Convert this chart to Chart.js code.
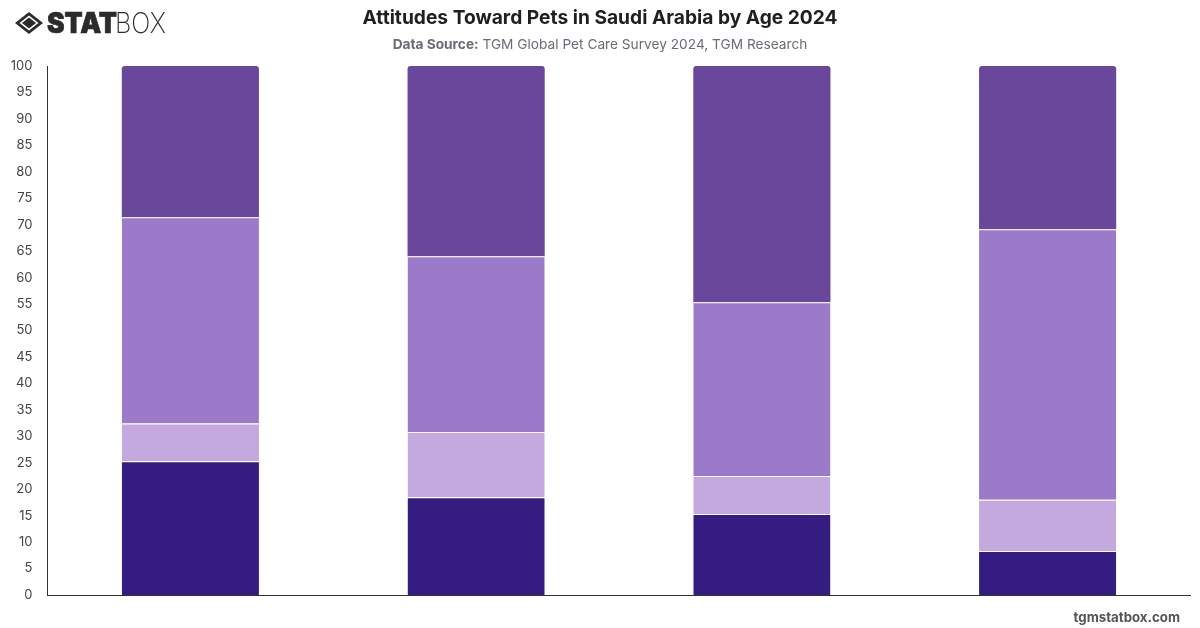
<!DOCTYPE html>
<html>
<head>
<meta charset="utf-8">
<title>Attitudes Toward Pets in Saudi Arabia by Age 2024</title>
<script src="https://cdn.jsdelivr.net/npm/chart.js@4"></script>
<style>
  html, body { margin: 0; padding: 0; background: #fff; }
  body { width: 1200px; height: 628px; position: relative; overflow: hidden; font-family: Inter, sans-serif; }
  #chartBox { position: absolute; left: 0; top: 0; width: 1200px; height: 628px; }
  #logo { position: absolute; left: 14px; top: 8px; }
  h1 { position: absolute; left: 0; right: 0; top: 5px; margin: 0; text-align: center; font-size: 19.2px; line-height: 24px; font-weight: 700; color: #1f1f1f; }
  #source { position: absolute; left: 0; right: 0; top: 35px; text-align: center; font-size: 13.7px; line-height: 18px; color: #6b6b75; }
  #source b { font-weight: 700; }
  #site { position: absolute; right: 20px; top: 609px; font-size: 13.25px; line-height: 16px; font-weight: 700; color: #555; }
</style>
</head>
<body>
<div id="chartBox"><canvas id="petChart"></canvas></div>

<svg id="logo" width="155" height="30" viewBox="0 0 155 30">
  <path d="M15 4 L29 15 L15 26 L1 15 Z M15 7.5 L5.5 15 L15 22.5 L24.5 15 Z" fill="#2b2b2b" fill-rule="evenodd"/>
  <path d="M15 9.5 L22 15 L15 20.5 L8 15 Z" fill="#2b2b2b"/>
  <text x="33" y="25" font-family="Inter" font-size="28" font-weight="900" fill="#2b2b2b" stroke="#2b2b2b" stroke-width="0.7" textLength="70" lengthAdjust="spacingAndGlyphs">STAT</text>
  <text x="101" y="25" font-family="Inter" font-size="28" font-weight="200" fill="#2b2b2b" textLength="51" lengthAdjust="spacingAndGlyphs">BOX</text>
</svg>

<h1>Attitudes Toward Pets in Saudi Arabia by Age 2024</h1>
<div id="source"><b>Data Source:</b> TGM Global Pet Care Survey 2024, TGM Research</div>
<div id="site">tgmstatbox.com</div>

<script>
// age groups are not printed on the axis
const categories = ['Group 1', 'Group 2', 'Group 3', 'Group 4'];

const seriesA = [25.3, 18.5, 15.3, 8.3];
const seriesB = [7.1, 12.3, 7.2, 9.7];
const seriesC = [39.0, 33.25, 32.85, 51.15];
const seriesD = [28.6, 35.95, 44.65, 30.85];

const yMax = 100;
const yStep = 5;

function segment(label, data, color) {
    return {
        label: label,
        data: data,
        backgroundColor: color,
        borderColor: '#ffffff',
        borderWidth: { top: 1, right: 0, bottom: 0, left: 0 },
        borderSkipped: false,
        barPercentage: 0.8,
        categoryPercentage: 0.6
    };
}

const topSegment = segment('Series 4', seriesD, '#69489b');
topSegment.borderWidth = 0;
topSegment.borderRadius = { topLeft: 3, topRight: 3, bottomLeft: 0, bottomRight: 0 };

new Chart(document.getElementById('petChart').getContext('2d'), {
    type: 'bar',
    data: {
        labels: categories,
        datasets: [
            segment('Series 1', seriesA, '#351c80'),
            segment('Series 2', seriesB, '#c3a9de'),
            segment('Series 3', seriesC, '#9b7ac9'),
            topSegment
        ]
    },
    options: {
        responsive: true,
        maintainAspectRatio: false,
        animation: false,
        layout: { padding: { top: 66, right: 9.5, bottom: 25, left: 0 } },
        plugins: { legend: { display: false }, tooltip: { enabled: false } },
        scales: {
            x: {
                stacked: true,
                grid: { display: false },
                border: { color: '#333333', width: 1 },
                ticks: { display: false }
            },
            y: {
                stacked: true,
                min: 0,
                max: yMax,
                afterFit: (scale) => { scale.width = 47.5; },
                grid: { display: false, drawTicks: false },
                border: { color: '#333333', width: 1 },
                ticks: {
                    stepSize: yStep,
                    autoSkip: false,
                    padding: 15,
                    color: '#444444',
                    font: { family: 'Inter', size: 13 }
                }
            }
        }
    }
});
</script>
</body>
</html>
